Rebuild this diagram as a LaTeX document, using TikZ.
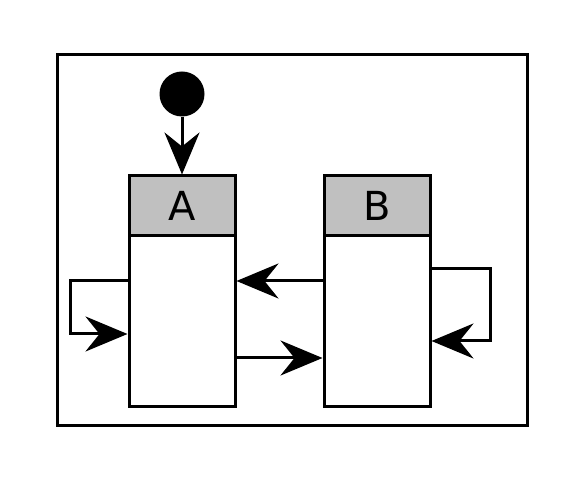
\documentclass[tikz,border=0pt]{standalone}
\usepackage{fontspec}
\setmainfont{DejaVu Sans}
\usetikzlibrary{positioning, calc, arrows.meta}
\definecolor{Ink}{HTML}{000000}
\definecolor{Head}{HTML}{C0C0C0}
\definecolor{Paper}{HTML}{FFFFFF}
\tikzset{
    statehead/.style={rectangle, draw=Ink, fill=Head, line width=3pt, minimum width=106pt, minimum height=60pt, inner sep=0pt, font=\fontsize{40pt}{48pt}\selectfont},
    statebody/.style={rectangle, draw=Ink, fill=Paper, line width=3pt, minimum width=106pt, minimum height=171pt, inner sep=0pt},
    startdot/.style={circle, fill=Ink, minimum size=45pt, inner sep=0pt},
    arrow/.style={-{Stealth[length=42pt, width=35pt, inset=14pt]}, line width=3pt, color=Ink},
    frame/.style={draw=Ink, line width=3pt},
}
\begin{document}
\begin{tikzpicture}[x=1pt, y=1pt]
    \useasboundingbox (0,0) rectangle (581,479);
    % Cornice esterna
    \draw[frame] (57,424) rectangle (527,53);

    % Stato iniziale
    \node[startdot] (init) at (182,385) {};

    % Stati A e B
    \node[statebody] (Abd) at (182,157.5) {};
    \node[statehead] (Ahd) at (182,273) {A};
    \node[statebody] (Bbd) at (377,157.5) {};
    \node[statehead] (Bhd) at (377,273) {B};

    % Transizioni
    \draw[arrow] (init) -- (Ahd);
    \draw[arrow] ([yshift=40.5pt]Abd.west) -- ++(-57,0) |- ([yshift=-12.5pt]Abd.west);
    \draw[arrow] ([yshift=40.5pt]Bbd.west) -- ([yshift=40.5pt]Abd.east);
    \draw[arrow] ([yshift=-36.5pt]Abd.east) -- ([yshift=-36.5pt]Bbd.west);
    \draw[arrow] ([yshift=52.5pt]Bbd.east) -- ++(59,0) |- ([yshift=-19.5pt]Bbd.east);
\end{tikzpicture}
\end{document}
